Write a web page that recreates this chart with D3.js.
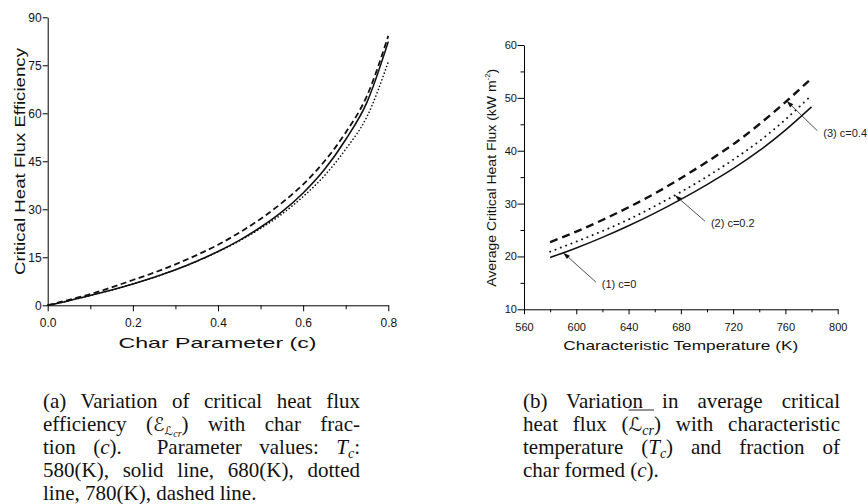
<!DOCTYPE html>
<html><head><meta charset="utf-8">
<script src="https://cdn.jsdelivr.net/npm/d3@7"></script>
<style>body{margin:0;background:#fff} svg{display:block} text{white-space:pre}</style>
</head><body><svg id="c" width="868" height="504"></svg>
<script>
// ---------- Data: panel (a) ----------
const charParam    = [0, 0.05, 0.1, 0.15, 0.2, 0.25, 0.3, 0.35, 0.4, 0.45, 0.5, 0.55, 0.6, 0.65, 0.7, 0.75, 0.8];
const eff580Solid  = [0, 1.45, 3.05, 4.75, 6.65, 8.75, 11.1, 13.8, 16.8, 20.3, 24.4, 29.2, 35.1, 42.4, 51.8, 63.5, 82.4];
const eff680Dotted = [0, 1.45, 3.05, 4.75, 6.65, 8.75, 11.1, 13.75, 16.7, 20.1, 24.0, 28.5, 34.0, 40.5, 48.8, 59.0, 76.1];
const eff780Dashed = [0, 1.7, 3.5, 5.6, 7.9, 10.2, 12.8, 15.7, 18.9, 22.7, 27.0, 32.0, 37.8, 45.0, 54.0, 65.5, 84.2];
const aXTicks = [0, 0.2, 0.4, 0.6, 0.8];
const aXMinor = [0.1, 0.3, 0.5, 0.7];
const aYTicks = [0, 15, 30, 45, 60, 75, 90];

// ---------- Data: panel (b) ----------
const tempK     = [580, 600, 620, 640, 660, 680, 700, 720, 740, 760, 780];
const fluxC0    = [19.8, 21.6, 23.6, 25.8, 28.2, 30.8, 33.6, 36.6, 40.0, 43.9, 48.3];
const fluxC02   = [20.9, 22.8, 24.8, 27.0, 29.5, 32.2, 35.1, 38.3, 41.8, 45.9, 50.5];
const fluxC04   = [22.7, 24.7, 26.9, 29.3, 31.9, 34.8, 37.9, 41.2, 45.0, 49.2, 53.7];
const bXTicks = [560, 600, 640, 680, 720, 760, 800];
const bXMinor = [580, 620, 660, 700, 740, 780];
const bYTicks = [10, 20, 30, 40, 50, 60];
const bYMinor = [15, 25, 35, 45, 55];
const annLabels = ["(1) c=0", "(2) c=0.2", "(3) c=0.4"];
const annTipT   = [590, 675.5, 761];      // where arrow tips touch curves
const annLabelT = [619.5, 703, 789];      // label anchor (data space)
const annLabelV = [14.8, 26.3, 43.4];

const svg = d3.select("#c");
const SANS = "'Liberation Sans', Arial, sans-serif";

// ================= Panel (a) =================
const xa = d3.scaleLinear().domain([0, 0.8]).range([47.7, 388.3]);
const ya = d3.scaleLinear().domain([0, 90]).range([305.3, 17.3]);
const ga = svg.append("g");

ga.append("g").attr("transform", `translate(0,${ya(0)})`)
  .call(d3.axisBottom(xa).tickValues(aXTicks).tickFormat(d3.format(".1f")).tickSize(6).tickSizeOuter(0).tickPadding(7.4));
ga.append("g").attr("transform", `translate(0,${ya(0)})`)
  .call(d3.axisBottom(xa).tickValues(aXMinor).tickFormat("").tickSize(4).tickSizeOuter(0))
  .select(".domain").remove();
ga.append("g").attr("transform", `translate(${xa(0)},0)`)
  .call(d3.axisLeft(ya).tickValues(aYTicks).tickSize(5).tickSizeOuter(0).tickPadding(1));
ga.selectAll(".tick text").attr("font-family", SANS).attr("font-size", 12).attr("fill", "#111");
ga.selectAll("path.domain, .tick line").attr("stroke", "#000").attr("stroke-width", 1);

ga.append("text").attr("x", 217.5).attr("y", 343.3).attr("text-anchor", "middle")
  .attr("dominant-baseline", "central").attr("font-family", SANS).attr("font-size", 14.5)
  .attr("textLength", 198).attr("lengthAdjust", "spacingAndGlyphs").attr("fill", "#111")
  .text("Char Parameter (c)");
ga.append("text").attr("transform", "translate(20,161.5) rotate(-90)").attr("text-anchor", "middle")
  .attr("dominant-baseline", "central").attr("font-family", SANS).attr("font-size", 14.5)
  .attr("textLength", 227).attr("lengthAdjust", "spacingAndGlyphs").attr("fill", "#111")
  .text("Critical Heat Flux Efficiency");

const lineA = d3.line().x(d => xa(d[0])).y(d => ya(d[1])).curve(d3.curveMonotoneX);
const seriesA = [
  {v: eff580Solid, dash: null, w: 1.6, cap: "butt"},
  {v: eff680Dotted, dash: "0.1,3.4", w: 1.6, cap: "round"},
  {v: eff780Dashed, dash: "6,3.5", w: 1.8, cap: "butt"}
];
seriesA.forEach(s => {
  ga.append("path").datum(charParam.map((c, i) => [c, s.v[i]]))
    .attr("d", lineA).attr("fill", "none").attr("stroke", "#111")
    .attr("stroke-width", s.w).attr("stroke-linecap", s.cap)
    .attr("stroke-dasharray", s.dash);
});

// ================= Panel (b) =================
const xb = d3.scaleLinear().domain([560, 800]).range([524, 837.7]);
const yb = d3.scaleLinear().domain([10, 60]).range([309.3, 45]);
const gb = svg.append("g");

gb.append("g").attr("transform", `translate(0,${yb(10)})`)
  .call(d3.axisBottom(xb).tickValues(bXTicks).tickFormat(d3.format("d")).tickSize(5).tickSizeOuter(0).tickPadding(8.8));
gb.append("g").attr("transform", `translate(0,${yb(10)})`)
  .call(d3.axisBottom(xb).tickValues(bXMinor).tickFormat("").tickSize(3).tickSizeOuter(0))
  .select(".domain").remove();
gb.append("g").attr("transform", `translate(${xb(560)},0)`)
  .call(d3.axisLeft(yb).tickValues(bYTicks).tickSize(6.5).tickSizeOuter(0).tickPadding(0.5));
gb.append("g").attr("transform", `translate(${xb(560)},0)`)
  .call(d3.axisLeft(yb).tickValues(bYMinor).tickFormat("").tickSize(3.5).tickSizeOuter(0))
  .select(".domain").remove();
gb.selectAll(".tick text").attr("font-family", SANS).attr("font-size", 11).attr("fill", "#111");
gb.selectAll("path.domain, .tick line").attr("stroke", "#000").attr("stroke-width", 1);

gb.append("text").attr("x", 680.8).attr("y", 345).attr("text-anchor", "middle")
  .attr("dominant-baseline", "central").attr("font-family", SANS).attr("font-size", 13)
  .attr("textLength", 235).attr("lengthAdjust", "spacingAndGlyphs").attr("fill", "#111")
  .text("Characteristic Temperature (K)");
const yTitleB = gb.append("text").attr("transform", "translate(491.7,177.8) rotate(-90)").attr("text-anchor", "middle")
  .attr("dominant-baseline", "central").attr("font-family", SANS).attr("font-size", 12.5)
  .attr("textLength", 218).attr("lengthAdjust", "spacingAndGlyphs").attr("fill", "#111");
yTitleB.append("tspan").text("Average Critical Heat Flux (kW m");
yTitleB.append("tspan").attr("font-size", 7).attr("dy", -5).text("-2");
yTitleB.append("tspan").attr("dy", 5).text(")");

const lineB = d3.line().x(d => xb(d[0])).y(d => yb(d[1])).curve(d3.curveMonotoneX);
const seriesB = [
  {v: fluxC0, dash: null, w: 1.5, cap: "butt"},
  {v: fluxC02, dash: "0.1,5.6", w: 1.9, cap: "round"},
  {v: fluxC04, dash: "8,5", w: 2.4, cap: "butt"}
];
seriesB.forEach(s => {
  gb.append("path").datum(tempK.map((t, i) => [t, s.v[i]]))
    .attr("d", lineB).attr("fill", "none").attr("stroke", "#111")
    .attr("stroke-width", s.w).attr("stroke-linecap", s.cap)
    .attr("stroke-dasharray", s.dash);
});

// annotations with arrows
const interp = (arr, t) => d3.scaleLinear().domain(tempK).range(arr)(t);
const annSeries = [fluxC0, fluxC02, fluxC04];
annLabels.forEach((lab, i) => {
  const lx = xb(annLabelT[i]), ly = yb(annLabelV[i]);
  const tx = xb(annTipT[i]), ty = yb(interp(annSeries[i], annTipT[i]));
  const sx = lx - 6, sy = ly - 2;
  const ang = Math.atan2(ty - sy, tx - sx);
  const hl = 7, hw = 2.3;
  const bx = tx - hl * Math.cos(ang), by = ty - hl * Math.sin(ang);
  gb.append("line").attr("x1", sx).attr("y1", sy).attr("x2", bx).attr("y2", by)
    .attr("stroke", "#222").attr("stroke-width", 0.8);
  gb.append("path").attr("d", `M${tx},${ty} L${bx + hw * Math.sin(ang)},${by - hw * Math.cos(ang)} L${bx - hw * Math.sin(ang)},${by + hw * Math.cos(ang)} Z`)
    .attr("fill", "#111");
  gb.append("text").attr("x", lx).attr("y", ly).attr("dominant-baseline", "central")
    .attr("font-family", SANS).attr("font-size", 11).attr("fill", "#222").text(lab);
});

// ================= Captions =================
const SERIF = "'Liberation Serif', 'Times New Roman', serif";
const SCRIPT = "'DejaVu Serif', 'DejaVu Sans', serif";
const CAP = 21;
function richLine(x, y, runs, width) {
  const t = svg.append("text").attr("x", x).attr("y", y)
    .attr("font-family", SERIF).attr("font-size", CAP).attr("fill", "#111");
  runs.forEach(r => {
    const s = t.append("tspan").text(r.t);
    if (r.it) s.attr("font-style", "italic");
    if (r.sz) s.attr("font-size", r.sz);
    if (r.ff) s.attr("font-family", r.ff);
    if (r.dy) s.attr("dy", r.dy);
  });
  if (width) {
    const nat = t.node().getComputedTextLength();
    const nsp = (runs.map(r => r.t).join("").match(/ /g) || []).length;
    const ws = (width - nat) / Math.max(1, nsp);
    t.attr("word-spacing", ws);
    const after = t.node().getComputedTextLength();
    if (Math.abs(after - width) > 3) {           // fallback if word-spacing unsupported
      t.attr("word-spacing", null).attr("textLength", width).attr("lengthAdjust", "spacing");
    }
  }
  return t;
}
const capW = 317, lh = 23, y0 = 408;
const ax = 43, bx0 = 523;
richLine(ax, y0, [{t: "(a) Variation of critical heat flux"}], capW);
richLine(ax, y0 + lh, [
  {t: "efficiency ("}, {t: "ℰ", ff: SCRIPT, it: true, sz: 19},
  {t: "ℒ", ff: SCRIPT, it: true, sz: 12, dy: 4}, {t: "cr", it: true, sz: 10, dy: 2},
  {t: ")", dy: -6}, {t: " with char frac-"}], capW);
richLine(ax, y0 + 2 * lh, [
  {t: "tion ("}, {t: "c", it: true}, {t: ").  Parameter values: "},
  {t: "T", it: true}, {t: "c", it: true, sz: 14, dy: 4}, {t: ":", dy: -4}], capW);
richLine(ax, y0 + 3 * lh, [{t: "580(K), solid line, 680(K), dotted"}], capW);
richLine(ax, y0 + 4 * lh, [{t: "line, 780(K), dashed line."}]);

richLine(bx0, y0, [{t: "(b) Variation in average critical"}], capW);
const bl2 = richLine(bx0, y0 + lh, [
  {t: "heat flux ("}, {t: "ℒ", ff: SCRIPT, it: true, sz: 19}, {t: "cr", it: true, sz: 14, dy: 4},
  {t: ")", dy: -4}, {t: " with characteristic"}], capW);
richLine(bx0, y0 + 2 * lh, [
  {t: "temperature ("}, {t: "T", it: true}, {t: "c", it: true, sz: 14, dy: 4},
  {t: ") and fraction of", dy: -4}], capW);
richLine(bx0, y0 + 3 * lh, [{t: "char formed ("}, {t: "c", it: true}, {t: ")."}]);

// overline on L_cr
const node = bl2.node();
const e1 = node.getExtentOfChar(11), e2 = node.getExtentOfChar(13);
svg.append("line").attr("x1", e1.x).attr("x2", e2.x + e2.width)
  .attr("y1", y0 + lh - 21).attr("y2", y0 + lh - 21)
  .attr("stroke", "#111").attr("stroke-width", 0.9);
</script></body></html>
